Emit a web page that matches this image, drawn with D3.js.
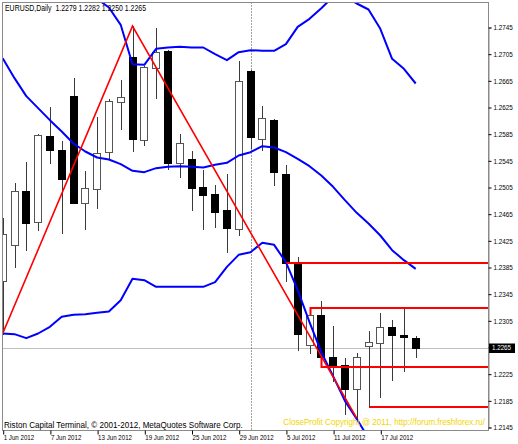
<!DOCTYPE html>
<html><head><meta charset="utf-8">
<script src="https://cdn.jsdelivr.net/npm/d3@7/dist/d3.min.js"></script>
<style>html,body{margin:0;padding:0;background:#fff;}svg{display:block;}</style>
</head><body>
<svg id="chart" width="518" height="444"></svg>
<script>
// ---------------- DATA ----------------
const symbol = "EURUSD,Daily";
const dates = ["1 Jun 2012","4 Jun 2012","5 Jun 2012","6 Jun 2012","7 Jun 2012","8 Jun 2012",
  "11 Jun 2012","12 Jun 2012","13 Jun 2012","14 Jun 2012","15 Jun 2012",
  "18 Jun 2012","19 Jun 2012","20 Jun 2012","21 Jun 2012","22 Jun 2012",
  "25 Jun 2012","26 Jun 2012","27 Jun 2012","28 Jun 2012","29 Jun 2012",
  "2 Jul 2012","3 Jul 2012","4 Jul 2012","5 Jul 2012","6 Jul 2012",
  "9 Jul 2012","10 Jul 2012","11 Jul 2012","12 Jul 2012","13 Jul 2012",
  "16 Jul 2012","17 Jul 2012","18 Jul 2012","19 Jul 2012","20 Jul 2012"];
const opens  = [1.2364,1.2419,1.2499,1.2453,1.2582,1.2561,1.2642,1.2481,1.2503,1.2558,1.2633,1.2701,1.2576,1.2685,1.2710,1.2541,1.2548,1.2506,1.2495,1.2471,1.2443,1.2679,1.2578,1.2607,1.2526,1.2391,1.2269,1.2314,1.2251,1.2239,1.2202,1.2268,1.2272,1.2295,1.2284,1.2279];
const highs  = [1.2459,1.2511,1.2543,1.2586,1.2626,1.2575,1.2670,1.2530,1.2611,1.2637,1.2667,1.2747,1.2687,1.2744,1.2711,1.2585,1.2559,1.2531,1.2509,1.2525,1.2694,1.2681,1.2628,1.2608,1.2539,1.2401,1.2325,1.2335,1.2297,1.2249,1.2256,1.2290,1.2316,1.2306,1.2324,1.2282];
const lows   = [1.2286,1.2386,1.2411,1.2441,1.2541,1.2436,1.2481,1.2443,1.2474,1.2548,1.2593,1.2559,1.2569,1.2639,1.2532,1.2521,1.2471,1.2442,1.2446,1.2408,1.2433,1.2564,1.2561,1.2509,1.2364,1.2261,1.2256,1.2236,1.2214,1.2166,1.2159,1.2176,1.2190,1.2216,1.2230,1.2250];
const closes = [1.2435,1.2499,1.2451,1.2584,1.2561,1.2518,1.2482,1.2504,1.2557,1.2635,1.2640,1.2577,1.2686,1.2709,1.2541,1.2571,1.2504,1.2493,1.2469,1.2444,1.2665,1.2580,1.2609,1.2528,1.2391,1.2286,1.2314,1.2250,1.2239,1.2203,1.2250,1.2273,1.2295,1.2284,1.2280,1.2265];
const bbUpper  = [1.3011,1.2974,1.2936,1.2906,1.2876,1.2849,1.2824,1.2804,1.2788,1.2775,1.2749,1.2690,1.2689,1.2713,1.2715,1.2716,1.2715,1.2715,1.2705,1.2696,1.2708,1.2711,1.2710,1.2710,1.2720,1.2746,1.2758,1.2774,1.2791,1.2791,1.2781,1.2772,1.2743,1.2698,1.2683,1.2661];
const bbMiddle = [1.2699,1.2669,1.2642,1.2624,1.2606,1.2589,1.2571,1.2559,1.2550,1.2547,1.2540,1.2530,1.2528,1.2534,1.2536,1.2537,1.2536,1.2535,1.2539,1.2542,1.2553,1.2558,1.2567,1.2565,1.2558,1.2548,1.2537,1.2523,1.2506,1.2486,1.2467,1.2451,1.2433,1.2411,1.2396,1.2383];
const bbLower  = [1.2286,1.2285,1.2279,1.2286,1.2296,1.2311,1.2314,1.2315,1.2317,1.2319,1.2336,1.2368,1.2366,1.2356,1.2356,1.2356,1.2356,1.2356,1.2363,1.2386,1.2404,1.2408,1.2422,1.2419,1.2393,1.2351,1.2303,1.2258,1.2222,1.2185,1.2158,1.2129,1.2123,1.2124,1.2109,1.2105];
const zigzagBars   = [0, 11, 30];
const zigzagPrices = [1.2286, 1.2747, 1.2159];
const levelStartBars    = [24, 26, 27, 31];
const levelPrices       = [1.2392, 1.2325, 1.2236, 1.2176];
const levelAnchorPrices = [1.2392, 1.2314, 1.2250, 1.2176];
const separatorBar = 21;
const xTickBars = [0, 4, 8, 12, 16, 20, 24, 28, 32];
const yTicks = [1.2745,1.2705,1.2665,1.2625,1.2585,1.2545,1.2505,1.2465,1.2425,1.2385,1.2345,1.2305,1.2265,1.2225,1.2185,1.2145];
const currentPrice = 1.2265;
const footerLeft  = "Riston Capital Terminal, \u00A9 2001-2012, MetaQuotes Software Corp.";
const footerRight = "CloseProfit Copyright @ 2011, http://forum.freshforex.ru/";

// ---------------- LAYOUT ----------------
const FONT = "'Liberation Sans', Arial, sans-serif";
const L = 2.5, R = 488.5, T = 2.5, B = 430.5;
const svg = d3.select("#chart");
const x = d3.scaleLinear().domain([0, dates.length - 1]).range([2.7, 2.7 + 11.8 * (dates.length - 1)]);
const y = d3.scaleLinear().domain([1.2145, 1.2745]).range([427.5, 27.5]);
const px = v => Math.round(v) + 0.5;

svg.append("defs").append("clipPath").attr("id", "plotclip")
  .append("rect").attr("x", L).attr("y", T).attr("width", R - L).attr("height", B - T);

const plot = svg.append("g").attr("clip-path", "url(#plotclip)");

// current price line
plot.append("line").attr("x1", L).attr("x2", R)
  .attr("y1", px(y(currentPrice))).attr("y2", px(y(currentPrice)))
  .attr("stroke", "#c0c0c0").attr("stroke-width", 1);

// period separator
plot.append("line").attr("x1", px(x(separatorBar))).attr("x2", px(x(separatorBar)))
  .attr("y1", T).attr("y2", B)
  .attr("stroke", "#444").attr("stroke-width", 1).attr("stroke-dasharray", "1,2");

// candles
const idx = d3.range(dates.length);
const candles = plot.append("g");
idx.forEach(i => {
  const cx = Math.round(x(i));
  const up = closes[i] >= opens[i];
  candles.append("line").attr("x1", cx + 0.5).attr("x2", cx + 0.5)
    .attr("y1", Math.round(y(highs[i]))).attr("y2", Math.round(y(lows[i])) + 1)
    .attr("stroke", "#3a3a3a").attr("stroke-width", 1);
  const top = px(y(Math.max(opens[i], closes[i])));
  const bot = px(y(Math.min(opens[i], closes[i])));
  candles.append("rect").attr("x", cx - 3.5).attr("y", top)
    .attr("width", 7).attr("height", Math.max(bot - top, 1))
    .attr("fill", up ? "#fff" : "#000")
    .attr("stroke", up ? "#555" : "#000").attr("stroke-width", 1);
});

// Bollinger bands
const bandLine = d3.line().x((d, i) => x(i)).y(d => y(d));
[bbUpper, bbMiddle, bbLower].forEach(s => {
  plot.append("path").attr("d", bandLine(s)).attr("fill", "none")
    .attr("stroke", "#0000ff").attr("stroke-width", 2).attr("stroke-linejoin", "round");
});

// ZigZag
const zz = d3.line().x(d => x(d[0])).y(d => y(d[1]));
plot.append("path").attr("d", zz(zigzagBars.map((b, i) => [b, zigzagPrices[i]])))
  .attr("fill", "none").attr("stroke", "#ff0000").attr("stroke-width", 1.6);

// levels
levelPrices.forEach((p, i) => {
  const sx = px(x(levelStartBars[i]));
  const ly = Math.round(y(p));
  plot.append("path")
    .attr("d", `M${sx},${Math.round(y(levelAnchorPrices[i]))}L${sx},${ly}L${R},${ly}`)
    .attr("fill", "none").attr("stroke", "#ff0000").attr("stroke-width", 2);
});

// frame
svg.append("rect").attr("x", L).attr("y", T).attr("width", R - L).attr("height", B - T)
  .attr("fill", "none").attr("stroke", "#8a8a8a").attr("stroke-width", 1);

function squeeze(sel, k) {
  sel.each(function () {
    const w = this.getComputedTextLength();
    d3.select(this).attr("textLength", w * k).attr("lengthAdjust", "spacingAndGlyphs");
  });
}

// y axis
const yAxis = d3.axisRight(y).tickValues(yTicks).tickFormat(d3.format(".4f")).tickSize(3).tickPadding(2);
const gy = svg.append("g").attr("transform", `translate(${R},0)`).call(yAxis);
gy.select(".domain").attr("stroke", "#8a8a8a");
gy.selectAll(".tick line").attr("stroke", "#000");
gy.selectAll(".tick text").attr("font-family", FONT).attr("font-size", 7.2).attr("fill", "#000").attr("dy", "0.34em");
squeeze(gy.selectAll(".tick text"), 0.88);

// x axis
const xAxis = d3.axisBottom(x).tickValues(xTickBars).tickFormat(i => dates[i]).tickSize(4).tickPadding(0);
const gx = svg.append("g").attr("transform", `translate(0,${B})`).call(xAxis);
gx.select(".domain").remove();
gx.selectAll(".tick line").attr("stroke", "#000").attr("transform", "translate(0.5,0)");
gx.selectAll(".tick text").attr("font-family", FONT).attr("font-size", 8).attr("fill", "#000")
  .attr("text-anchor", "start").attr("x", 0.5).attr("y", 9.5).attr("dy", 0);
squeeze(gx.selectAll(".tick text"), 0.77);

// current price box
const cpY = y(currentPrice);
svg.append("rect").attr("x", 489).attr("y", Math.round(cpY) - 4.5).attr("width", 26).attr("height", 9.5).attr("fill", "#000");
svg.append("text").attr("x", 492).attr("y", cpY + 2.6).attr("font-family", FONT).attr("font-size", 7.2)
  .attr("fill", "#fff").text(d3.format(".4f")(currentPrice))
  .attr("textLength", 19).attr("lengthAdjust", "spacingAndGlyphs");

// header (single text line)
const last = dates.length - 1;
const headerText = symbol + "\u00A0\u00A0" + [opens[last], highs[last], lows[last], closes[last]].map(d3.format(".4f")).join(" ");
svg.append("text").attr("x", 5).attr("y", 11).attr("font-family", FONT).attr("font-size", 9).attr("fill", "#000")
  .text(headerText).attr("textLength", 141).attr("lengthAdjust", "spacingAndGlyphs");

// footers
svg.append("text").attr("x", 4).attr("y", 428.3).attr("font-family", FONT).attr("font-size", 8.4).attr("fill", "#000")
  .text(footerLeft).attr("textLength", 238.7).attr("lengthAdjust", "spacingAndGlyphs");
svg.append("text").attr("x", 283.3).attr("y", 424.5).attr("font-family", FONT).attr("font-size", 8.4).attr("fill", "#f2d500")
  .text(footerRight).attr("textLength", 201.7).attr("lengthAdjust", "spacingAndGlyphs");
</script>
</body></html>
